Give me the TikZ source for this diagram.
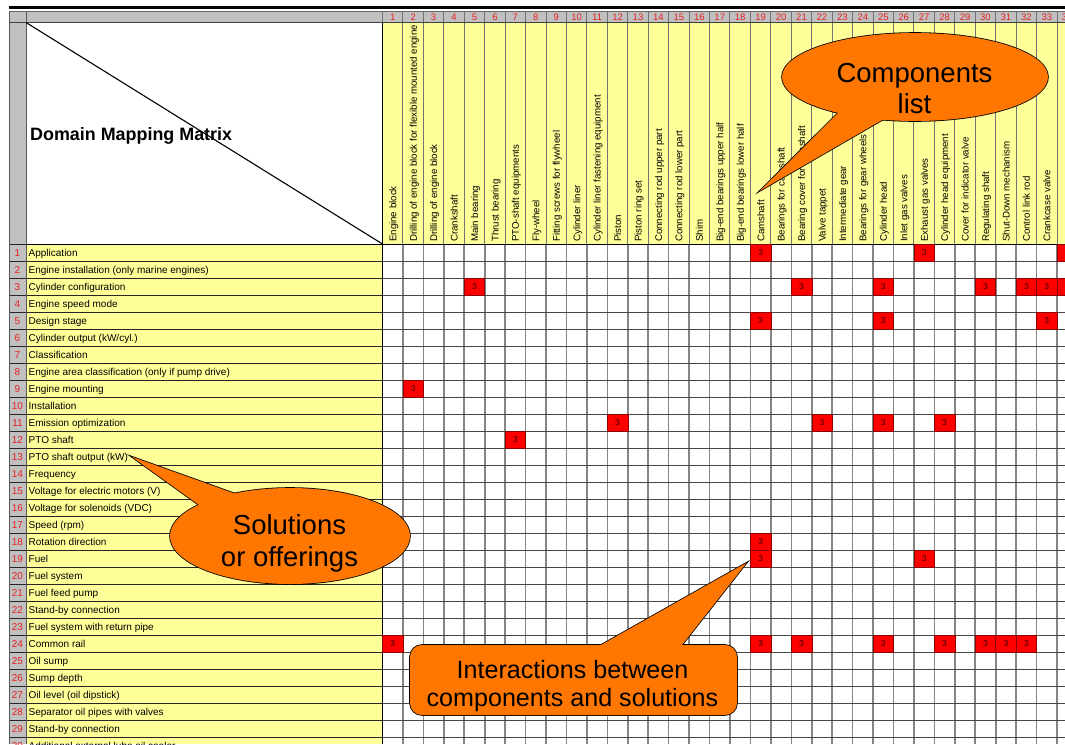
\documentclass[tikz,border=0pt]{standalone}
\usepackage{fontspec}
\setmainfont{Liberation Sans}
\usetikzlibrary{shapes.geometric}

\definecolor{hdrgray}{RGB}{192,192,192}
\definecolor{celly}{RGB}{255,255,153}
\definecolor{numred}{RGB}{232,32,32}
\definecolor{hitred}{RGB}{255,0,0}
\definecolor{hitnum}{RGB}{55,0,0}
\definecolor{calloutorange}{RGB}{255,119,0}

% two centred lines whose first baseline is the box baseline
\newcommand\twolines[2]{\begin{tabular}[t]{@{}c@{}}#1\\#2\end{tabular}}

\begin{document}
\begin{tikzpicture}[x=1pt,y=-1pt,
  colhead/.style={rotate=90, anchor=base west, inner sep=0, font=\fontsize{9.7}{11}\selectfont},
  rowlabel/.style={anchor=base west, inner sep=0, font=\fontsize{10}{12}\selectfont},
  rownum/.style={anchor=base, inner sep=0, text=numred, font=\fontsize{10}{11}\selectfont},
  colnum/.style={anchor=base, inner sep=0, text=numred, font=\fontsize{9.5}{11}\selectfont},
  hit/.style={fill=hitred, draw=hitred!55!black, line width=0.5, minimum width=20.44pt,
    minimum height=17pt, inner sep=0, font=\fontsize{8.5}{9}\selectfont, text=hitnum},
  bubbleline/.style={draw=black, line width=1.6pt, line join=miter},
  bubblefill/.style={fill=calloutorange},
  bubbletext/.style={inner sep=0, anchor=base, text=black},
]
\useasboundingbox (0,0) rectangle (1065,744);
\clip (0,0) rectangle (1065,744);
\fill[white] (0,0) rectangle (1065,744);

% ---- sheet background areas
\fill[hdrgray] (9,11) rectangle (1065,22.5);
\fill[hdrgray] (9,22.5) rectangle (26,744);
\fill[celly] (26,244) rectangle (382.5,744);
\fill[celly] (382.5,22.5) rectangle (1065,244);

% ---- grid lines
\foreach \k in {0,...,34} {
  \draw[draw=black!55, line width=1pt] ({382.5+\k*20.44},11) -- ({382.5+\k*20.44},244);
  \draw[draw=black!48, line width=1.6pt] ({382.5+\k*20.44},244) -- ({382.5+\k*20.44},744);
}
\foreach \r in {0,...,30} {
  \draw[draw=black!85, line width=0.9pt] (9,{244+\r*17}) -- (382.5,{244+\r*17});
  \draw[draw=black!72, line width=0.9pt] (382.5,{244+\r*17}) -- (1065,{244+\r*17});
}
\draw[black!65, line width=1pt] (9,11) -- (9,744);
\draw[black!65, line width=1pt] (26,11) -- (26,744);
\draw[black, line width=1pt] (382.5,22.5) -- (382.5,744);
\draw[black!60, line width=0.8pt] (9,11) -- (1065,11);
\draw[black!75, line width=0.8pt] (9,22.5) -- (1065,22.5);
\draw[black, line width=1pt] (26,244) -- (1065,244);
\draw[black, line width=2.5pt] (9,7.5) -- (1065,7.5);

% ---- corner cell
\coordinate (cornerTL) at (26,22.5);
\coordinate (cornerBR) at (382.5,244);
\draw[black, line width=1.1pt] (cornerTL) -- (cornerBR);
\node[anchor=base west, inner sep=0, font=\fontsize{17.9}{20}\selectfont\bfseries] (title) at (30,140.4) {Domain Mapping Matrix};

% ---- column numbers and component names
\foreach \c in {1,...,34}
  \node[colnum] (colnum\c) at ({382.5+(\c-0.5)*20.44},20.2) {\c};
\foreach \c/\t in {1/{Engine block},
  2/{Drilling of engine block for flexible mounted engine},
  3/{Drilling of engine block}, 4/{Crankshaft}, 5/{Main bearing},
  6/{Thrust bearing}, 7/{PTO-shaft equipments}, 8/{Fly-wheel},
  9/{Fitting screws for flywheel}, 10/{Cylinder liner},
  11/{Cylinder liner fastening equipment}, 12/{Piston}, 13/{Piston ring set},
  14/{Connecting rod upper part}, 15/{Connecting rod lower part}, 16/{Shim},
  17/{Big-end bearings upper half}, 18/{Big-end bearings lower half},
  19/{Camshaft}, 20/{Bearings for camshaft}, 21/{Bearing cover for camshaft},
  22/{Valve tappet}, 23/{Intermediate gear}, 24/{Bearings for gear wheels},
  25/{Cylinder head}, 26/{Inlet gas valves}, 27/{Exhaust gas valves},
  28/{Cylinder head equipment}, 29/{Cover for indicator valve},
  30/{Regulating shaft}, 31/{Shut-Down mechanism}, 32/{Control link rod},
  33/{Crankcase valve}}
  \node[colhead] (colhead\c) at ({382.5+(\c-0.5)*20.44+3.6},242) {\t};

% ---- row numbers and solution names
\foreach \r/\t in {1/{Application}, 2/{Engine installation (only marine engines)},
  3/{Cylinder configuration}, 4/{Engine speed mode}, 5/{Design stage},
  6/{Cylinder output (kW/cyl.)}, 7/{Classification},
  8/{Engine area classification (only if pump drive)}, 9/{Engine mounting},
  10/{Installation}, 11/{Emission optimization}, 12/{PTO shaft},
  13/{PTO shaft output (kW)}, 14/{Frequency},
  15/{Voltage for electric motors (V)}, 16/{Voltage for solenoids (VDC)},
  17/{Speed (rpm)}, 18/{Rotation direction}, 19/{Fuel}, 20/{Fuel system},
  21/{Fuel feed pump}, 22/{Stand-by connection},
  23/{Fuel system with return pipe}, 24/{Common rail}, 25/{Oil sump},
  26/{Sump depth}, 27/{Oil level (oil dipstick)},
  28/{Separator oil pipes with valves}, 29/{Stand-by connection},
  30/{Additional external lube oil cooler}}
{
  \node[rownum] (rownum\r) at (17.5,{244+(\r-1)*17+12.3}) {\r};
  \node[rowlabel] (rowlabel\r) at (28.5,{244+(\r-1)*17+12.3}) {\t};
}

% ---- interactions
\foreach \r/\c in {1/19, 1/27, 1/34, 3/5, 3/21, 3/25, 3/30, 3/32, 3/33, 3/34,
  5/19, 5/25, 5/33, 9/2, 11/12, 11/22, 11/25, 11/28, 12/7, 18/19, 19/19, 19/27,
  24/1, 24/19, 24/21, 24/25, 24/28, 24/30, 24/31, 24/32}
  \node[hit] (hit-\r-\c) at ({382.5+(\c-0.5)*20.44},{244+(\r-0.5)*17}) {3};

% ---- callout: components list
\coordinate (comptip) at (760,190.7);
\draw[bubbleline] (915,77) ellipse [x radius=133, y radius=44];
\draw[bubbleline] (860,91) -- (comptip) -- (921,97.5);
\fill[bubblefill] (860,91) -- (comptip) -- (921,97.5) -- cycle;
\node[ellipse, bubblefill, minimum width=266pt, minimum height=88pt, inner sep=0] (comp) at (915,77) {};
\node[bubbletext, font=\fontsize{27.5}{31}\selectfont] (comptext) at (914.5,82) {\twolines{Components}{list}};

% ---- callout: solutions or offerings
\coordinate (soltip) at (131.7,456.7);
\draw[bubbleline] (290,536) ellipse [x radius=120, y radius=48];
\draw[bubbleline] (215,516.5) -- (soltip) -- (260,502.6);
\fill[bubblefill] (215,516.5) -- (soltip) -- (260,502.6) -- cycle;
\node[ellipse, bubblefill, minimum width=240pt, minimum height=96pt, inner sep=0] (sol) at (290,536) {};
\node[bubbletext, font=\fontsize{27.5}{32}\selectfont] (soltext) at (289.5,534) {\twolines{Solutions}{or offerings}};

% ---- callout: interactions between components and solutions
\coordinate (intertip) at (746.7,562.7);
\draw[bubbleline, rounded corners=12pt] (410,645) rectangle (737,715);
\draw[bubbleline] (583.3,655) -- (intertip) -- (674.1,655);
\fill[bubblefill] (583.3,655) -- (intertip) -- (674.1,655) -- cycle;
\node[rectangle, rounded corners=12pt, bubblefill, minimum width=327pt, minimum height=70pt, inner sep=0] (inter) at (573.5,680) {};
\node[bubbletext, font=\fontsize{25.1}{28.5}\selectfont] (intertext) at (572.5,678) {\twolines{Interactions between}{components and solutions}};

\end{tikzpicture}
\end{document}
